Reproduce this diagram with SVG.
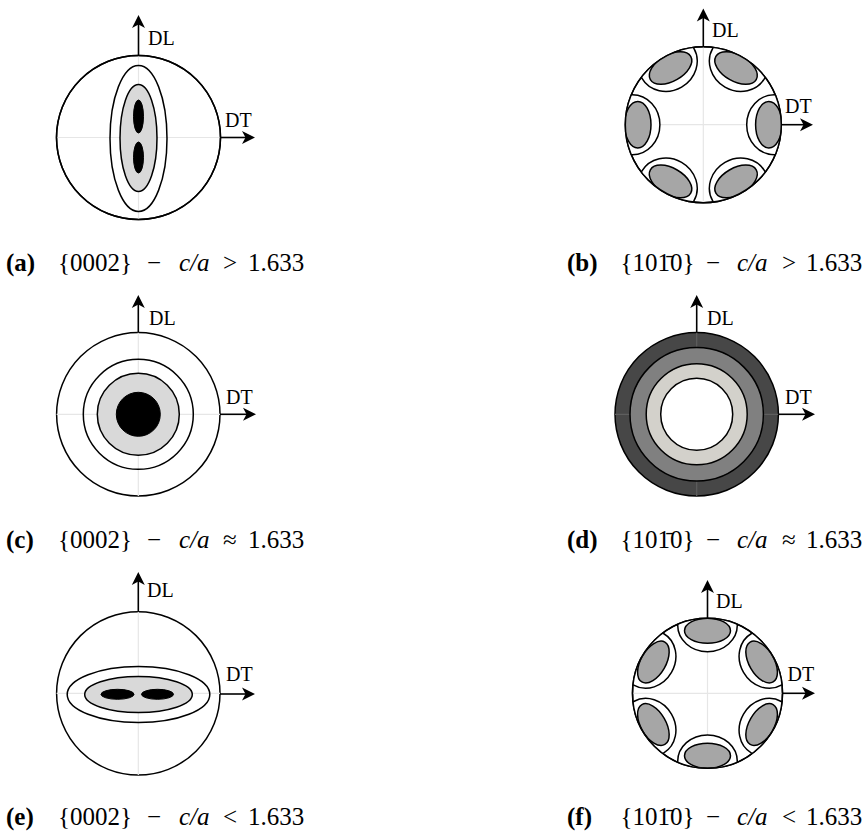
<svg xmlns="http://www.w3.org/2000/svg" xmlns:xlink="http://www.w3.org/1999/xlink" width="867" height="835" viewBox="0 0 867 835">
<style>
.ln{fill:none;stroke:#000;stroke-width:1.5}
.wf{fill:#fff;stroke:#000;stroke-width:1.5}
.lg{fill:#d9d9d9;stroke:#000;stroke-width:1.5}
.mg{fill:#a6a6a6;stroke:#000;stroke-width:1.5}
.bk{fill:#000;stroke:#000;stroke-width:1}
.grid{stroke:#e6e6e6;stroke-width:1.2;fill:none}
.ax{stroke:#000;stroke-width:1.6;fill:none;marker-end:url(#arr)}
.lbl{font-family:"Liberation Serif","Times New Roman",serif;font-size:20px;fill:#000}
.cap{font-family:"Liberation Serif","Times New Roman",serif;font-size:25px;fill:#000}
.b{font-weight:bold}
.i{font-style:italic}
</style>
<defs>
<marker id="arr" markerUnits="userSpaceOnUse" viewBox="-6 -8 15 16" refX="0" refY="0" markerWidth="15" markerHeight="16" orient="auto">
<path d="M8,0 L-5,-6.5 L-1.5,0 L-5,6.5 Z" fill="#000"/>
</marker>
<clipPath id="clipB"><circle cx="703.3" cy="124.7" r="78"/></clipPath>
<clipPath id="clipF"><circle cx="707.5" cy="693.3" r="75"/></clipPath>
<g id="lobeB"><ellipse class="wf" cx="71" cy="0" rx="27.6" ry="30"/><ellipse class="mg" cx="65.5" cy="0" rx="13.2" ry="23.3"/></g>
<g id="lobeF"><ellipse class="wf" cx="68" cy="0" rx="26.4" ry="29.8"/><ellipse class="mg" cx="62.5" cy="0" rx="12.5" ry="23"/></g>
</defs>
<rect width="867" height="835" fill="#fff"/>

<g id="panel-a">
<circle class="wf" cx="138.5" cy="137.5" r="82"/>
<path class="grid" d="M56.5,137.5 H220.5 M138.5,55.5 V219.5"/>
<ellipse class="ln" cx="138.5" cy="138.5" rx="28.5" ry="73"/>
<ellipse class="lg" cx="138.5" cy="138" rx="18.5" ry="53.5"/>
<ellipse class="bk" cx="138.5" cy="116.5" rx="5" ry="16.5"/>
<ellipse class="bk" cx="138.5" cy="157.5" rx="5" ry="15.5"/>
<circle class="ln" cx="138.5" cy="137.5" r="82"/>
</g>

<g id="panel-b">
<circle class="wf" cx="703.3" cy="124.7" r="78"/>
<path class="grid" d="M625.3,124.7 H781.3 M703.3,46.7 V202.7"/>
<g clip-path="url(#clipB)">
<use xlink:href="#lobeB" transform="translate(703.3,124.7)"/>
<use xlink:href="#lobeB" transform="translate(703.3,124.7) rotate(-60)"/>
<use xlink:href="#lobeB" transform="translate(703.3,124.7) rotate(-120)"/>
<use xlink:href="#lobeB" transform="translate(703.3,124.7) rotate(-180)"/>
<use xlink:href="#lobeB" transform="translate(703.3,124.7) rotate(-240)"/>
<use xlink:href="#lobeB" transform="translate(703.3,124.7) rotate(-300)"/>
</g>
<circle class="ln" cx="703.3" cy="124.7" r="78"/>
</g>

<g id="panel-c">
<circle class="wf" cx="138.3" cy="414.3" r="81.7"/>
<path class="grid" d="M56.6,414.3 H220 M138.3,332.6 V496"/>
<circle class="ln" cx="138.3" cy="414.3" r="55"/>
<circle class="lg" cx="138.3" cy="414.3" r="41"/>
<circle class="bk" cx="138.3" cy="414.3" r="22"/>
</g>

<g id="panel-d">
<circle cx="696.7" cy="414.3" r="81.7" fill="#474747" stroke="#000" stroke-width="1.5"/>
<path d="M615,414.3 H778.4 M696.7,332.6 V496" stroke="#5e5e5e" stroke-width="1.2" fill="none"/>
<circle cx="696.7" cy="414.3" r="66.7" fill="#808080" stroke="#000" stroke-width="1.5"/>
<circle cx="696.7" cy="414.3" r="50.5" fill="#d3d1cb" stroke="#000" stroke-width="1.5"/>
<circle cx="696.7" cy="414.3" r="36" fill="#fff" stroke="#000" stroke-width="1.5"/>
</g>

<g id="panel-e">
<circle class="wf" cx="138.3" cy="693.4" r="81.7"/>
<path class="grid" d="M56.6,693.4 H220 M138.3,611.7 V775.1"/>
<ellipse class="ln" cx="138.5" cy="694.5" rx="71.3" ry="28"/>
<ellipse class="lg" cx="138.5" cy="694.5" rx="53.8" ry="18"/>
<ellipse class="bk" cx="117.5" cy="694.3" rx="16.5" ry="5"/>
<ellipse class="bk" cx="157.5" cy="694.3" rx="16" ry="5"/>
</g>

<g id="panel-f">
<circle class="wf" cx="707.5" cy="693.3" r="75"/>
<path class="grid" d="M632.5,693.3 H782.5 M707.5,618.3 V768.3"/>
<g clip-path="url(#clipF)">
<use xlink:href="#lobeF" transform="translate(707.5,693.3) rotate(-30)"/>
<use xlink:href="#lobeF" transform="translate(707.5,693.3) rotate(-90)"/>
<use xlink:href="#lobeF" transform="translate(707.5,693.3) rotate(-150)"/>
<use xlink:href="#lobeF" transform="translate(707.5,693.3) rotate(-210)"/>
<use xlink:href="#lobeF" transform="translate(707.5,693.3) rotate(-270)"/>
<use xlink:href="#lobeF" transform="translate(707.5,693.3) rotate(-330)"/>
</g>
<circle class="ln" cx="707.5" cy="693.3" r="75"/>
</g>

<g id="connectors">
<line class="ax" x1="138.5" y1="55.5" x2="138.5" y2="23"/>
<line class="ax" x1="220.5" y1="137.5" x2="247" y2="137.5"/>
<line class="ax" x1="703.3" y1="46.7" x2="703.3" y2="16.5"/>
<line class="ax" x1="781.3" y1="124.7" x2="805" y2="124.7"/>
<line class="ax" x1="138.3" y1="332.6" x2="138.3" y2="303"/>
<line class="ax" x1="220" y1="414.3" x2="248" y2="414.3"/>
<line class="ax" x1="696.7" y1="332.6" x2="696.7" y2="303"/>
<line class="ax" x1="778.4" y1="414.3" x2="807" y2="414.3"/>
<line class="ax" x1="138.3" y1="611.7" x2="138.3" y2="580"/>
<line class="ax" x1="220" y1="694" x2="247" y2="694"/>
<line class="ax" x1="707.5" y1="618.3" x2="707.5" y2="588"/>
<line class="ax" x1="782.5" y1="693.3" x2="807" y2="693.3"/>
</g>

<g id="labels">
<text class="lbl" x="148" y="45">DL</text>
<text class="lbl" x="225" y="127">DT</text>
<text class="lbl" x="712" y="37">DL</text>
<text class="lbl" x="785" y="113">DT</text>
<text class="lbl" x="149" y="325">DL</text>
<text class="lbl" x="226" y="404">DT</text>
<text class="lbl" x="707" y="325">DL</text>
<text class="lbl" x="785" y="404">DT</text>
<text class="lbl" x="147" y="597">DL</text>
<text class="lbl" x="226" y="681">DT</text>
<text class="lbl" x="716" y="608">DL</text>
<text class="lbl" x="787.5" y="681">DT</text>
</g>

<g id="captions">
<text class="cap" y="270.5"><tspan class="b" x="6">(a)</tspan><tspan x="58">{0002}</tspan><tspan x="147">−</tspan><tspan class="i" x="179">c/a</tspan><tspan x="223">&gt;</tspan><tspan x="248">1.633</tspan></text>
<text class="cap" y="270.5"><tspan class="b" x="567">(b)</tspan><tspan x="620.5">{101̄0}</tspan><tspan x="706">−</tspan><tspan class="i" x="737">c/a</tspan><tspan x="782">&gt;</tspan><tspan x="806">1.633</tspan></text>
<text class="cap" y="548"><tspan class="b" x="6">(c)</tspan><tspan x="58">{0002}</tspan><tspan x="147">−</tspan><tspan class="i" x="179">c/a</tspan><tspan x="223">≈</tspan><tspan x="248">1.633</tspan></text>
<text class="cap" y="548"><tspan class="b" x="567">(d)</tspan><tspan x="620.5">{101̄0}</tspan><tspan x="706">−</tspan><tspan class="i" x="737">c/a</tspan><tspan x="782">≈</tspan><tspan x="806">1.633</tspan></text>
<text class="cap" y="825"><tspan class="b" x="6">(e)</tspan><tspan x="58">{0002}</tspan><tspan x="147">−</tspan><tspan class="i" x="179">c/a</tspan><tspan x="223">&lt;</tspan><tspan x="248">1.633</tspan></text>
<text class="cap" y="825"><tspan class="b" x="567">(f)</tspan><tspan x="620.5">{101̄0}</tspan><tspan x="706">−</tspan><tspan class="i" x="737">c/a</tspan><tspan x="782">&lt;</tspan><tspan x="806">1.633</tspan></text>
</g>
</svg>
